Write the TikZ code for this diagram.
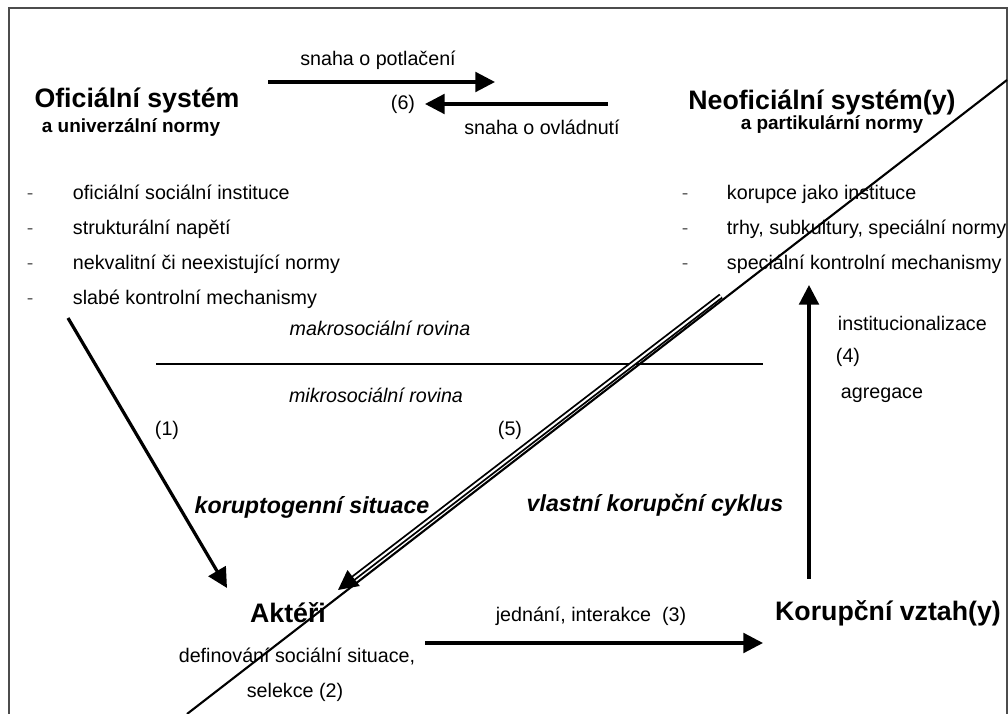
\documentclass[tikz,border=0pt]{standalone}
\usepackage{fontspec}
\setmainfont{Liberation Sans}
\usetikzlibrary{arrows.meta}

\begin{document}
\begin{tikzpicture}[
    x=0.025cm, y=-0.025cm,
    >={Triangle[length=14pt, width=14pt]},
    title/.style={font=\fontsize{19}{22}\selectfont\bfseries},
    subtitle/.style={font=\fontsize{13.5}{16}\selectfont\bfseries},
    item/.style={anchor=base west, font=\fontsize{14}{16}\selectfont},
    lbl/.style={font=\fontsize{14}{16}\selectfont},
    level/.style={font=\fontsize{14}{16}\selectfont\itshape},
    phase/.style={font=\fontsize{16.5}{19}\selectfont\bfseries\itshape},
    flow/.style={->, line width=2.3pt},
    feedback/.style={->, double, line width=1.3pt, double distance=1.4pt}
]
    \useasboundingbox (0,0) rectangle (1008,714);

    % Frame
    \draw[black!70, line width=1pt] (9,714) -- (9,8) -- (1007,8) -- (1007,714);

    % Official system
    \node[title] (os) at (137,100) {Oficiální systém};
    \node[subtitle] (osn) at (131,128) {a univerzální normy};
    \node[item, black!60] (lb1) at (22,200) {-};
    \node[item, black!60] (lb2) at (22,235) {-};
    \node[item, black!60] (lb3) at (22,270) {-};
    \node[item, black!60] (lb4) at (22,305) {-};
    \node[item] (l1) at (68,200) {oficiální sociální instituce};
    \node[item] (l2) at (68,235) {strukturální napětí};
    \node[item] (l3) at (68,270) {nekvalitní či neexistující normy};
    \node[item] (l4) at (68,305) {slabé kontrolní mechanismy};

    % Unofficial system
    \node[title] (ns) at (822,102) {Neoficiální systém(y)};
    \node[subtitle] (nsn) at (832,125) {a partikulární normy};
    \node[item, black!60] (rb1) at (677,200) {-};
    \node[item, black!60] (rb2) at (677,235) {-};
    \node[item, black!60] (rb3) at (677,270) {-};
    \node[item] (r1) at (722,200) {korupce jako instituce};
    \node[item] (r2) at (722,235) {trhy, subkultury, speciální normy};
    \node[item] (r3) at (722,270) {speciální kontrolní mechanismy};

    % Struggle between the systems (6)
    \coordinate (s1) at (268,82);
    \coordinate (s2) at (495,82);
    \coordinate (o1) at (608,104);
    \coordinate (o2) at (425,104);
    \draw[flow] (s1) -- (s2);
    \draw[flow] (o1) -- (o2);
    \node[lbl] (potl) at (378,60) {snaha o potlačení};
    \node[lbl] (n6) at (403,104) {(6)};
    \node[lbl] (ovl) at (542,127) {snaha o ovládnutí};

    % Levels
    \coordinate (h1) at (156,364);
    \coordinate (h2) at (763,364);
    \draw[line width=1pt] (h1) -- (h2);
    \node[level] (makro) at (380,328) {makrosociální rovina};
    \node[level] (mikro) at (376,395) {mikrosociální rovina};

    % Actors
    \node[title] (akt) at (288,613) {Aktéři};
    \node[lbl] (def) at (297,657) {definování sociální situace,};
    \node[lbl] (sel) at (295,692) {selekce (2)};
    \node[phase] (kor) at (312,507) {koruptogenní situace};
    \coordinate (a1) at (68,318);
    \coordinate (a2) at (227,588);
    \draw[flow] (a1) -- (a2);
    \node[lbl] (n1) at (167,430) {(1)};

    % Corrupt relations
    \node[title] (kv) at (888,613) {Korupční vztah(y)};
    \coordinate (j1) at (425,643);
    \coordinate (j2) at (763,643);
    \draw[flow] (j1) -- (j2);
    \node[lbl] (jed) at (591,616) {jednání, interakce\ \ (3)};
    \node[phase] (cyk) at (655,505) {vlastní korupční cyklus};

    % Institutionalisation (4)
    \coordinate (v1) at (809,579);
    \coordinate (v2) at (809,285);
    \draw[flow] (v1) -- (v2);
    \node[lbl, anchor=west] (inst) at (833,323) {institucionalizace};
    \node[lbl] (n4) at (848,357) {(4)};
    \node[lbl] (agr) at (882,395) {agregace};

    % Feedback (5) and the diagonal
    \coordinate (f1) at (721,296);
    \coordinate (f2) at (338,590);
    \draw[feedback] (f1) -- (f2);
    \node[lbl] (n5) at (510,430) {(5)};
    \coordinate (d1) at (187,714);
    \coordinate (d2) at (1007,80);
    \draw[line width=1.5pt] (d1) -- (d2);
\end{tikzpicture}
\end{document}
